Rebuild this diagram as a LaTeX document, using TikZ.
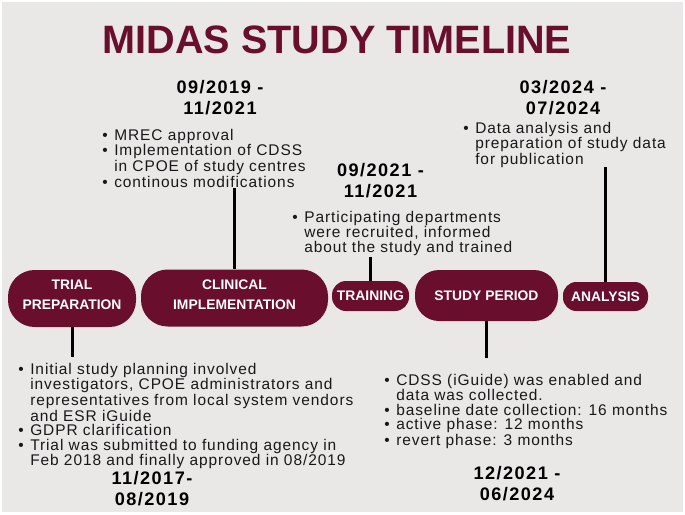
\documentclass[tikz,border=0pt]{standalone}
\usepackage{fontspec}
\setmainfont{Liberation Sans}
\newfontfamily\bodyfont[LetterSpace=6]{Liberation Sans}
\newfontfamily\datefont[LetterSpace=8]{Liberation Sans}
\definecolor{midasred}{RGB}{106,14,46}
\definecolor{midasbg}{RGB}{233,232,230}
\definecolor{bodytext}{RGB}{25,23,24}
\newcommand\mybul{\makebox[9pt][l]{•}}
\newcommand\myind{\hspace*{9pt}}
\newcommand\tightlines{\lineskiplimit-6pt\relax}
\newcommand\twoline[3]{\raisebox{2.6pt}[\height][\depth]{\parbox{#1}{\centering #2\\#3}}}
\begin{document}
\begin{tikzpicture}[x=0.75pt,y=-0.75pt,
  pill/.style={fill=midasred, text=white, inner sep=0pt,
    font=\fontsize{10.4}{15}\selectfont\bfseries},
  conn/.style={line width=2.25pt, draw=black},
  bodytxt/.style={anchor=base west, inner sep=0pt, text=bodytext,
    font=\bodyfont\fontsize{11.6}{10.8}\selectfont\tightlines},
  datetxt/.style={anchor=base, inner sep=0pt, text=black,
    font=\datefont\bfseries\fontsize{13.6}{15.75}\selectfont\tightlines},
  titletxt/.style={anchor=base, inner sep=0pt, text=midasred,
    font=\bfseries\fontsize{29.7}{32}\selectfont}]
\useasboundingbox (0,0) rectangle (685,514);
\fill[white] (0,0) rectangle (685,514);
\fill[midasbg] (2,2) rectangle (683,512);

% title
\node[titletxt] (title) at (337,53) {MIDAS STUDY TIMELINE};

% pills
\node[pill, minimum width=96pt, minimum height=42.75pt, rounded corners=20pt] (trial) at (72,298.5) {\twoline{86pt}{TRIAL}{PREPARATION}};
\node[pill, minimum width=140.25pt, minimum height=42.75pt, rounded corners=20pt] (clinical) at (234.5,298) {\twoline{120pt}{CLINICAL}{IMPLEMENTATION}};
\node[pill, minimum width=57.75pt, minimum height=22.5pt, rounded corners=10.5pt] (training) at (370.5,296) {TRAINING};
\node[pill, minimum width=107.25pt, minimum height=38.25pt, rounded corners=18pt] (study) at (486.5,295.5) {STUDY PERIOD};
\node[pill, minimum width=63.75pt, minimum height=21.75pt, rounded corners=10pt] (analysis) at (605.5,296.5) {ANALYSIS};

% connector ends
\coordinate (etrial) at (72,357);
\coordinate (eclin) at (234.5,188);
\coordinate (etrain) at (370.5,257);
\coordinate (estudy) at (486.5,358);
\coordinate (eana) at (605.5,167);
\draw[conn] (trial.south) -- (etrial);
\draw[conn] (clinical.north) -- (eclin);
\draw[conn] (training.north) -- (etrain);
\draw[conn] (study.south) -- (estudy);
\draw[conn] (analysis.north) -- (eana);

% dates
\node[datetxt] (dclin) at (220,93) {\parbox[t]{120pt}{\centering 09/2019 -\\11/2021}};
\node[datetxt] (dtrain) at (380.5,176) {\parbox[t]{120pt}{\centering 09/2021 -\\11/2021}};
\node[datetxt] (dana) at (563,93) {\parbox[t]{120pt}{\centering 03/2024 -\\07/2024}};
\node[datetxt] (dtrial) at (152,484) {\parbox[t]{120pt}{\centering 11/2017-\\08/2019}};
\node[datetxt] (dstudy) at (517,479) {\parbox[t]{120pt}{\centering 12/2021 -\\06/2024}};

% bullet texts
\node[bodytxt] (tclin) at (102,140) {\parbox[t]{260pt}{\mybul MREC approval\\
\mybul Implementation of CDSS\\
\myind in CPOE of study centres\\
\mybul continous modifications}};
\node[bodytxt] (ttrain) at (292,222) {\parbox[t]{260pt}{\mybul Participating departments\\
\myind were recruited, informed\\
\myind about the study and trained}};
\node[bodytxt] (tana) at (463,133) {\parbox[t]{200pt}{\mybul Data analysis and\\
\myind preparation of study data\\
\myind for publication}};
\node[bodytxt] (ttrial) at (18,374) {\parbox[t]{300pt}{\mybul Initial study planning involved\\
\myind investigators, CPOE administrators and\\
\myind representatives from local system vendors\\
\myind and ESR iGuide\\
\mybul GDPR clarification\\
\mybul Trial was submitted to funding agency in\\
\myind Feb 2018 and finally approved in 08/2019}};
\node[bodytxt] (tstudy) at (384,385) {\parbox[t]{300pt}{\mybul CDSS (iGuide) was enabled and\\
\myind data was collected.\\
\mybul baseline date collection: 16 months\\
\mybul active phase: 12 months\\
\mybul revert phase: 3 months}};
\end{tikzpicture}
\end{document}
